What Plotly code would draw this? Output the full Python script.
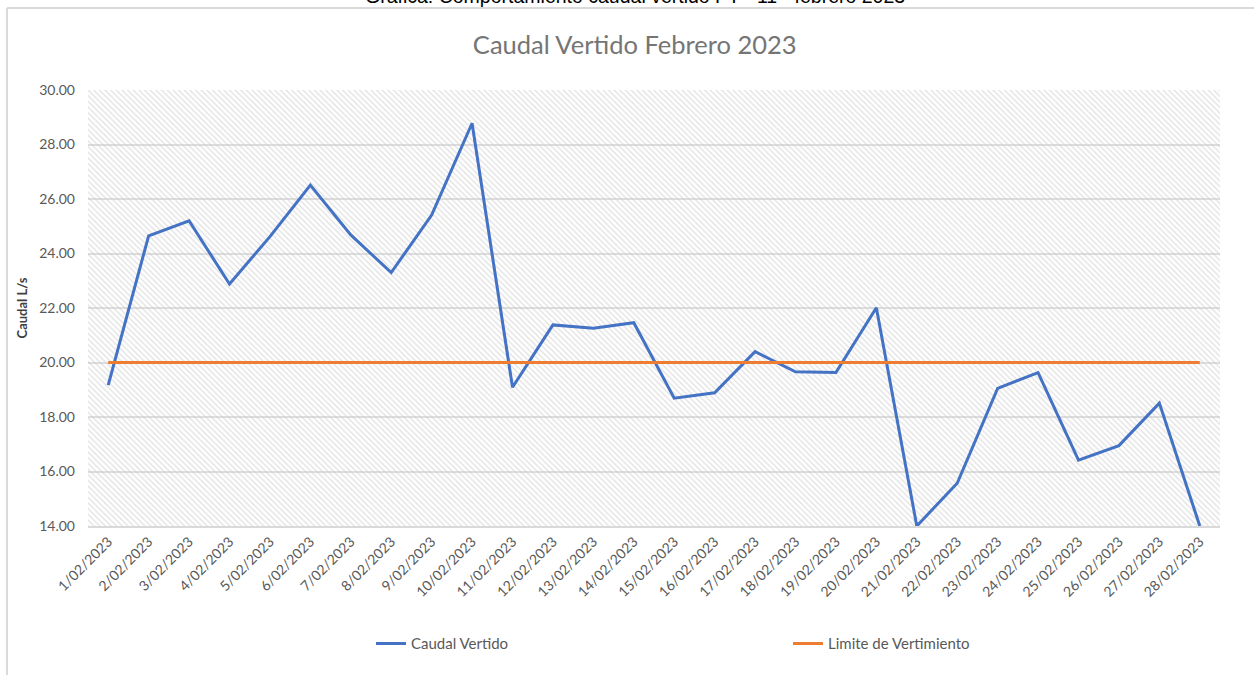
import plotly.graph_objects as go

# datos
fechas = [f"{d}/02/2023" for d in range(1, 29)]
caudal_vertido = [19.17, 24.65, 25.20, 22.88, 24.62, 26.51, 24.68, 23.30, 25.41, 28.78,
                  19.09, 21.38, 21.26, 21.46, 18.69, 18.89, 20.40, 19.66, 19.63, 22.01,
                  14.00, 15.57, 19.05, 19.63, 16.42, 16.95, 18.51, 14.00]
limite_vertimiento = [20.0] * 28
y_ticks = [14, 16, 18, 20, 22, 24, 26, 28, 30]

FONT = "Lato"
GRIS = "#595959"

fig = go.Figure()

# fondo rayado del area de trazado (ejes auxiliares 0-1)
fig.add_trace(go.Scatter(
    x=[0, 1, 1, 0, 0], y=[0, 0, 1, 1, 0],
    mode="none", fill="toself", fillcolor="rgba(0,0,0,0)",
    fillpattern=dict(shape="\\", fgcolor="#c6c6c6", bgcolor="rgba(255,255,255,0)",
                     size=4, solidity=0.35),
    hoverinfo="skip", showlegend=False, xaxis="x", yaxis="y",
))

fig.add_trace(go.Scatter(
    x=fechas, y=caudal_vertido, mode="lines", name="Caudal Vertido",
    line=dict(color="#4472C4", width=3), xaxis="x2", yaxis="y2",
))
fig.add_trace(go.Scatter(
    x=fechas, y=limite_vertimiento, mode="lines", name="Limite de Vertimiento",
    line=dict(color="#ED7D31", width=3), xaxis="x2", yaxis="y2",
))

fig.update_layout(
    width=1254, height=675,
    paper_bgcolor="white", plot_bgcolor="white",
    margin=dict(l=88, r=34, t=90, b=149),
    font=dict(family=FONT, color=GRIS, size=14),
    title=dict(text="Caudal Vertido Febrero 2023", xref="paper", x=0.483,
               xanchor="center", y=0.933, yanchor="middle",
               font=dict(size=25.5, color="#757575")),
    xaxis=dict(range=[0, 1], visible=False, fixedrange=True),
    yaxis=dict(range=[0, 1], visible=False, fixedrange=True),
    xaxis2=dict(overlaying="x", type="category", tickangle=-45, range=[-0.5, 27.5],
                showgrid=False, showline=True, linecolor="#d9d9d9", linewidth=2,
                ticks="", tickfont=dict(size=14, color=GRIS), anchor="y2"),
    yaxis2=dict(overlaying="y", range=[14, 30], tickvals=y_ticks,
                tickformat=".2f", showgrid=True, gridcolor="#dedede", gridwidth=2,
                zeroline=False, showline=False, ticks="", anchor="x2",
                ticklabelstandoff=12,
                tickfont=dict(size=14, color=GRIS),
                title=dict(text="<b>Caudal L/s</b>", standoff=8,
                           font=dict(size=13, color="#404040"))),
    legend=dict(orientation="h", x=0.25, y=-0.27, xanchor="left", yanchor="middle",
                entrywidth=372, font=dict(size=15, color=GRIS),
                itemwidth=30),
    shapes=[
        dict(type="line", xref="paper", yref="paper", x0=-0.0716, x1=1.04,
             y0=1.188, y1=1.188, line=dict(color="#d9d9d9", width=2)),
        dict(type="line", xref="paper", yref="paper", x0=-0.0716, x1=-0.0716,
             y0=-0.4, y1=1.188, line=dict(color="#d9d9d9", width=2)),
    ],
    annotations=[
        dict(text="Gráfica: Comportamiento caudal vertido PT - 11 - febrero 2023",
             xref="paper", yref="paper", x=0.483, y=1.186, xanchor="center",
             yanchor="bottom", showarrow=False,
             font=dict(family="Liberation Sans", size=19.5, color="black")),
    ],
)

# quitar el margen por defecto del <body> para que la figura empiece en (0, 0)
fig.write_html("out.html", config={"displayModeBar": False},
               post_script="document.body.style.margin='0';")
